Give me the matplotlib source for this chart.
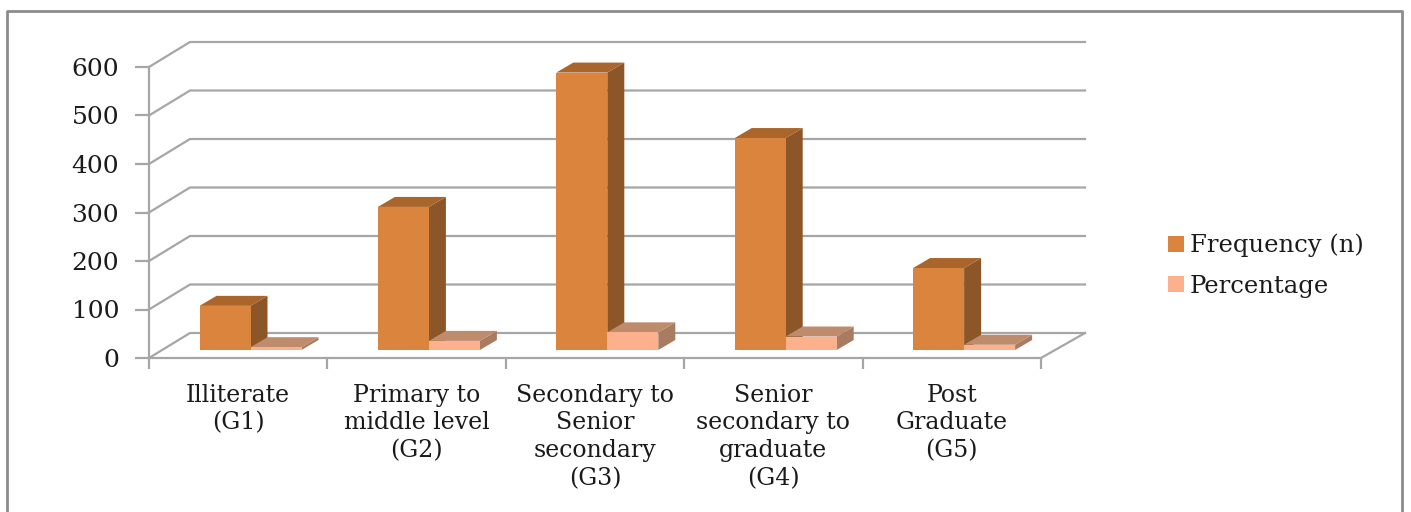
import matplotlib
matplotlib.use("Agg")
import matplotlib.pyplot as plt
from matplotlib.patches import Polygon
from matplotlib.lines import Line2D

categories = ["Illiterate\n(G1)", "Primary to\nmiddle level\n(G2)", "Secondary to\nSenior\nsecondary\n(G3)",
              "Senior\nsecondary to\ngraduate\n(G4)", "Post\nGraduate\n(G5)"]
frequency = [91, 295, 572, 437, 169]
percentage = [5.8, 18.8, 36.4, 27.8, 10.8]
yticks = [0, 100, 200, 300, 400, 500, 600]

W, H = 1411, 512
fig = plt.figure(figsize=(W / 100, H / 100), dpi=100, facecolor="white")
plt.rcParams["font.family"] = ["DejaVu Serif"]
L, R, B, T = 149, 1041, 358, 67
ax = fig.add_axes([L / W, 1 - B / H, (R - L) / W, (B - T) / H])
ax.set_xlim(0, 5)
ax.set_ylim(0, 600)
ax.patch.set_visible(False)

px_x = 5 / (R - L)
px_y = 600 / (B - T)
DEPTH_X, DEPTH_Y = 41 * px_x, 25 * px_y      # wall depth
END_X = 44 * px_x                            # wall right end beyond the axis
BAR_DX, BAR_DY = 17 * px_x, 10 * px_y        # bar depth
FLOOR = 8 * px_y                             # bar foot above the front edge
START, WIDTH = 50.5 * px_x, 51 * px_x

GRID = "#a6a6a6"
LW = 1.6
for v in yticks:
    ax.plot([0, DEPTH_X, 5 + END_X], [v, v + DEPTH_Y, v + DEPTH_Y], color=GRID, lw=LW, clip_on=False, zorder=1)
ax.plot([5, 5 + END_X], [0, DEPTH_Y], color=GRID, lw=LW, clip_on=False, zorder=1)

for s in ("top", "right"):
    ax.spines[s].set_visible(False)
for s in ("left", "bottom"):
    ax.spines[s].set_color(GRID)
    ax.spines[s].set_linewidth(LW)

ax.set_yticks(yticks)
ax.tick_params(axis="y", length=10, width=LW, color=GRID, labelsize=18, pad=11.5, labelcolor="#1a1a1a")
ax.set_xticks(range(6))
ax.set_xticklabels([])
ax.set_xticks([i + 0.5 for i in range(5)], categories, minor=True)
ax.tick_params(axis="x", which="major", length=8, width=LW, color=GRID)
ax.tick_params(axis="x", which="minor", length=0, labelsize=17, pad=18.5, labelcolor="#1a1a1a")
for t in ax.get_xticklabels(minor=True):
    t.set_linespacing(1.26)


def bar3d(x0, value, front, top, side, label=None):
    x1 = x0 + WIDTH
    y0 = FLOOR
    y1 = FLOOR + value
    ax.add_patch(Polygon([(x1, y0), (x1 + BAR_DX, y0 + BAR_DY), (x1 + BAR_DX, y1 + BAR_DY), (x1, y1)],
                         fc=side, ec="none", clip_on=False, zorder=3))
    ax.add_patch(Polygon([(x0, y1), (x0 + BAR_DX, y1 + BAR_DY), (x1 + BAR_DX, y1 + BAR_DY), (x1, y1)],
                         fc=top, ec="none", clip_on=False, zorder=3))
    ax.bar(x0, value, WIDTH, bottom=y0, align="edge", color=front, clip_on=False, zorder=3, label=label)


for i in range(5):
    bar3d(i + START, frequency[i], "#DB843D", "#A9652A", "#8C5628",
          label="Frequency (n)" if i == 0 else None)
    bar3d(i + START + WIDTH, percentage[i], "#FCB08C", "#BE8B6C", "#A97C62",
          label="Percentage" if i == 0 else None)

handles, labels = ax.get_legend_handles_labels()
fig.legend(handles, labels, loc="upper left", bbox_to_anchor=(1146 / W, 1 - 212 / H), frameon=False,
           fontsize=17.5, handlelength=0.65, handleheight=0.65, handletextpad=0.25, labelspacing=0.72,
           labelcolor="#1a1a1a")

# chart frame
FRAME = "#8c8c8c"
x0, x1, y0, y1 = 6.5 / W, 1402 / W, 1 - 10.5 / H, 0
fig.add_artist(Line2D([x0, x0, x1, x1], [y1, y0, y0, y1], color=FRAME, lw=2))

fig.savefig("out.png", dpi=100)
